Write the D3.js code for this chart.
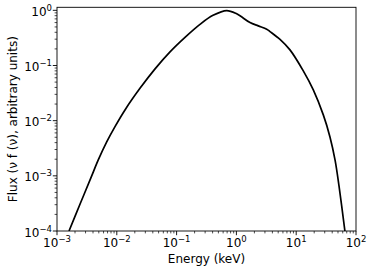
<!DOCTYPE html>
<html><head><meta charset="utf-8">
<script src="https://cdn.jsdelivr.net/npm/d3@7"></script>
<style>body{margin:0;background:#fff}svg{display:block}text{font-family:"DejaVu Sans",sans-serif;fill:#000}</style>
</head><body>
<svg id="c" width="373" height="271"></svg>
<script>
const energy = [0.001588,0.00246,0.00376,0.0049,0.00678,0.00933,0.01371,0.0244,0.0436,0.0776,0.1382,0.246,0.4066,0.689,1.012,1.688,2.323,3.212,3.647,5.36,7.87,13.14,19.32,28.4,36.7,44.6,51.97,65.46];
const flux = [1.0e-4,3.18e-4,9.66e-4,1.94e-3,4.12e-3,7.80e-3,1.566e-2,3.85e-2,8.69e-2,0.1767,0.3237,0.557,0.8114,0.9917,0.864,0.6007,0.5234,0.456,0.4124,0.2978,0.192,0.0799,0.0361,0.01272,5.07e-3,1.94e-3,6.55e-4,9.71e-5];
const xTickExp = [-3,-2,-1,0,1,2];
const yTickExp = [-4,-3,-2,-1,0];
const xLabel = "Energy (keV)";
const yLabel = "Flux (\u03bd f (\u03bd), arbitrary units)";

const svg = d3.select("#c");
const L=57,R=356,T=7.3,B=231;
const x = d3.scaleLog().domain([1e-3,1e2]).range([L,R]);
const y = d3.scaleLog().domain([1e-4,1.135]).range([B,T]);

svg.append("clipPath").attr("id","cp").append("rect").attr("x",L).attr("y",T).attr("width",R-L).attr("height",B-T);

const line = d3.line().x((d,i)=>x(energy[i])).y((d,i)=>y(flux[i])).curve(d3.curveCatmullRom.alpha(0.5));
svg.append("path").datum(flux).attr("d",line).attr("fill","none").attr("stroke","#000").attr("stroke-width",1.7).attr("clip-path","url(#cp)");

// minor ticks
const xMinor=[], yMinor=[];
for(let e=-3;e<2;e++) for(let k=2;k<10;k++) xMinor.push(k*Math.pow(10,e));
for(let e=-4;e<1;e++) for(let k=2;k<10;k++){const v=k*Math.pow(10,e); if(v<=1.135) yMinor.push(v);}
const g = svg.append("g").attr("stroke","#000").attr("stroke-width",0.7);
xMinor.forEach(v=>g.append("line").attr("x1",x(v)).attr("x2",x(v)).attr("y1",B).attr("y2",B+2.4));
yMinor.forEach(v=>g.append("line").attr("y1",y(v)).attr("y2",y(v)).attr("x1",L).attr("x2",L-2.4));
const gm = svg.append("g").attr("stroke","#000").attr("stroke-width",0.9);
xTickExp.forEach(e=>gm.append("line").attr("x1",x(Math.pow(10,e))).attr("x2",x(Math.pow(10,e))).attr("y1",B).attr("y2",B+4.2));
yTickExp.forEach(e=>gm.append("line").attr("y1",y(Math.pow(10,e))).attr("y2",y(Math.pow(10,e))).attr("x1",L).attr("x2",L-4.2));

// frame
svg.append("rect").attr("x",L).attr("y",T).attr("width",R-L).attr("height",B-T).attr("fill","none").attr("stroke","#000").attr("stroke-width",0.9);

function sup(t, e){
  t.append("tspan").text("10");
  t.append("tspan").attr("dy",-5).attr("font-size",8.5).text(e<0?"\u2212"+(-e):String(e));
}
xTickExp.forEach(e=>{
  const t=svg.append("text").attr("x",x(Math.pow(10,e))).attr("y",247).attr("text-anchor","middle").attr("font-size",12);
  sup(t,e);
});
yTickExp.forEach(e=>{
  const t=svg.append("text").attr("x",52).attr("y",y(Math.pow(10,e))+5.5).attr("text-anchor","end").attr("font-size",12);
  sup(t,e);
});
svg.append("text").attr("x",(L+R)/2).attr("y",263).attr("text-anchor","middle").attr("font-size",12).text(xLabel);
svg.append("text").attr("transform",`translate(17,${(T+B)/2}) rotate(-90)`).attr("text-anchor","middle").attr("font-size",12).text(yLabel);
</script>
</body></html>
